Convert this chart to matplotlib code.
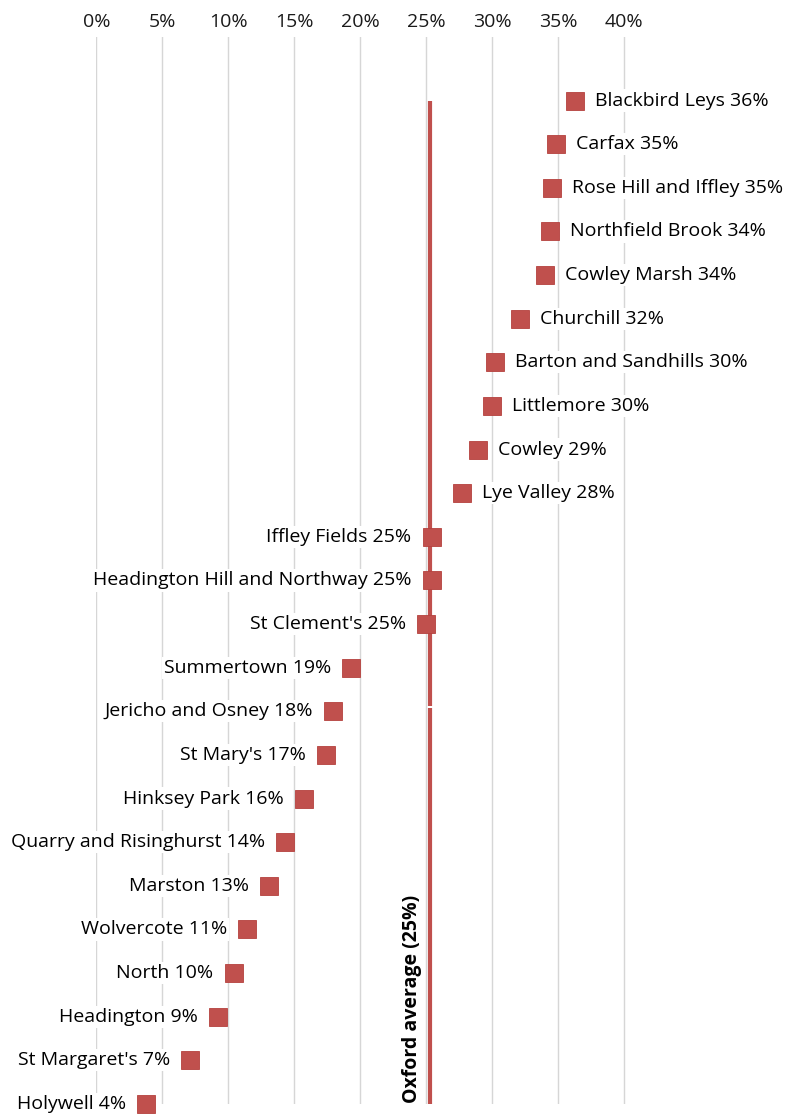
import numpy as np
import matplotlib
matplotlib.use("Agg")
import matplotlib.pyplot as plt

plt.rcParams['font.family'] = ['Open Sans', 'DejaVu Sans']

# Share of children in low income families by ward (estimated from the chart)
wards = ["Blackbird Leys", "Carfax", "Rose Hill and Iffley", "Northfield Brook",
         "Cowley Marsh", "Churchill", "Barton and Sandhills", "Littlemore",
         "Cowley", "Lye Valley", "Iffley Fields", "Headington Hill and Northway",
         "St Clement's", "Summertown", "Jericho and Osney", "St Mary's",
         "Hinksey Park", "Quarry and Risinghurst", "Marston", "Wolvercote",
         "North", "Headington", "St Margaret's", "Holywell"]
values = [36.3, 34.8, 34.5, 34.4, 34.0, 32.1, 30.2, 30.0, 28.9, 27.7,
          25.4, 25.4, 25.0, 19.3, 17.9, 17.4, 15.7, 14.3, 13.1, 11.4,
          10.4, 9.2, 7.1, 3.8]
labels = ["36%", "35%", "35%", "34%", "34%", "32%", "30%", "30%", "29%", "28%",
          "25%", "25%", "25%", "19%", "18%", "17%", "16%", "14%", "13%", "11%",
          "10%", "9%", "7%", "4%"]
oxford_avg = 25.3
xticks = [0, 5, 10, 15, 20, 25, 30, 35, 40]

red = "#C0504D"
W, H = 790, 1115
fig = plt.figure(figsize=(W / 100, H / 100), dpi=100)
ax_left, ax_top, ax_bottom = 96.3, 37, 1104
ax = fig.add_axes([ax_left / W, 1 - ax_bottom / H, (W - ax_left) / W, (ax_bottom - ax_top) / H])

px_per_pct = 13.2
ax.set_xlim(0, (W - ax_left) / px_per_pct)
step = 43.63
ax.set_ylim((ax_bottom - 100.5) / step, (ax_top - 100.5) / step)

for t in xticks:
    ax.axvline(t, color="#D6D6D6", lw=1, zorder=0)
    ax.text(t, 1.0 + 15 / (ax_bottom - ax_top), f"{t}%", transform=ax.get_xaxis_transform(),
            ha="center", va="center", fontsize=14, color="#1a1a1a")

ypos = np.arange(len(wards))
# average line, with a small break
gap_y = (707 - 100.5) / step
ax.plot([oxford_avg, oxford_avg], [0, gap_y - 0.025], color=red, lw=3, zorder=2,
        solid_capstyle="butt")
ax.plot([oxford_avg, oxford_avg], [gap_y + 0.025, (ax_bottom - 100.5) / step], color=red,
        lw=3, zorder=2, solid_capstyle="butt")
ax.text(oxford_avg - 18.7 / px_per_pct, (999 - 100.5) / step, "Oxford average (25%)",
        rotation=90, ha="center", va="center", fontsize=14, fontweight="bold", color="black")

ax.plot(values, ypos, ls="none", marker="s", ms=12.5, color=red, mec="#B5413E", mew=0.6,
        zorder=4, clip_on=False)

off = 20 / px_per_pct
for v, y, name, lab in zip(values, ypos, wards, labels):
    if v > 27:
        ax.text(v + off, y, f"{name} {lab}", ha="left", va="center", fontsize=14,
                color="black", zorder=3,
                bbox=dict(facecolor="white", edgecolor="none", pad=1.5))
    else:
        ax.text(v - off, y, f"{name} {lab}", ha="right", va="center", fontsize=14,
                color="black", zorder=3,
                bbox=dict(facecolor="white", edgecolor="none", pad=1.5))

ax.axis("off")
fig.savefig("out.png", dpi=100)
